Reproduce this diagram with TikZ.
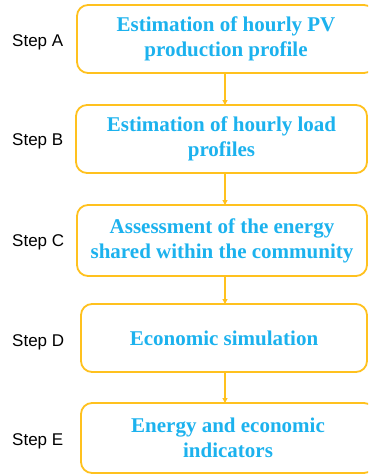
\documentclass[tikz,border=0pt]{standalone}
\usepackage{fontspec}
\setmainfont{Liberation Serif}
\newfontfamily\stepfont{Liberation Sans}
\usetikzlibrary{arrows.meta}
\definecolor{boxorange}{HTML}{FFC11E}
\definecolor{txtblue}{HTML}{1CB2EE}
\tikzset{
  stepbox/.style={draw=boxorange, line width=1.8pt, rounded corners=11pt, fill=white,
    align=center, inner sep=0pt, font=\fontsize{21}{25}\selectfont\bfseries, text=txtblue,
    minimum height=68pt},
  steplabel/.style={anchor=west, inner sep=0pt, font=\stepfont\fontsize{17}{20}\selectfont, text=black},
  flow/.style={draw=boxorange, line width=1.1pt, -{Triangle[length=5pt,width=5pt]}}
}
\begin{document}
\begin{tikzpicture}[x=1pt,y=-1pt]
\useasboundingbox (0,0) rectangle (368,474);
\begin{scope}
\clip (0,0) rectangle (368,474);
\node[stepbox, minimum width=298pt] (A) at (226,39) {Estimation of hourly PV\\production profile};
\node[stepbox, minimum width=291pt] (B) at (221.5,139) {Estimation of hourly load\\profiles};
\node[stepbox, minimum width=290pt, minimum height=71pt] (C) at (222,240.5) {Assessment of the energy\\shared within the community};
\node[stepbox, minimum width=286pt] (D) at (224,338) {Economic simulation};
\node[stepbox, minimum width=294pt, minimum height=70pt] (E) at (228,438) {Energy and economic\\indicators};
\end{scope}
\node[steplabel] (la) at (12,42) {Step A};
\node[steplabel] (lb) at (12,141) {Step B};
\node[steplabel] (lc) at (12,242) {Step C};
\node[steplabel] (ld) at (12,342) {Step D};
\node[steplabel] (le) at (12,441) {Step E};
\coordinate (a1) at (225,73);
\coordinate (b0) at (225,105);
\coordinate (b1) at (225,173);
\coordinate (c0) at (225,205);
\coordinate (c1) at (225,276);
\coordinate (d0) at (225,304);
\coordinate (d1) at (225,372);
\coordinate (e0) at (225,403);
\draw[flow] (a1) -- (b0);
\draw[flow] (b1) -- (c0);
\draw[flow] (c1) -- (d0);
\draw[flow] (d1) -- (e0);
\end{tikzpicture}
\end{document}
